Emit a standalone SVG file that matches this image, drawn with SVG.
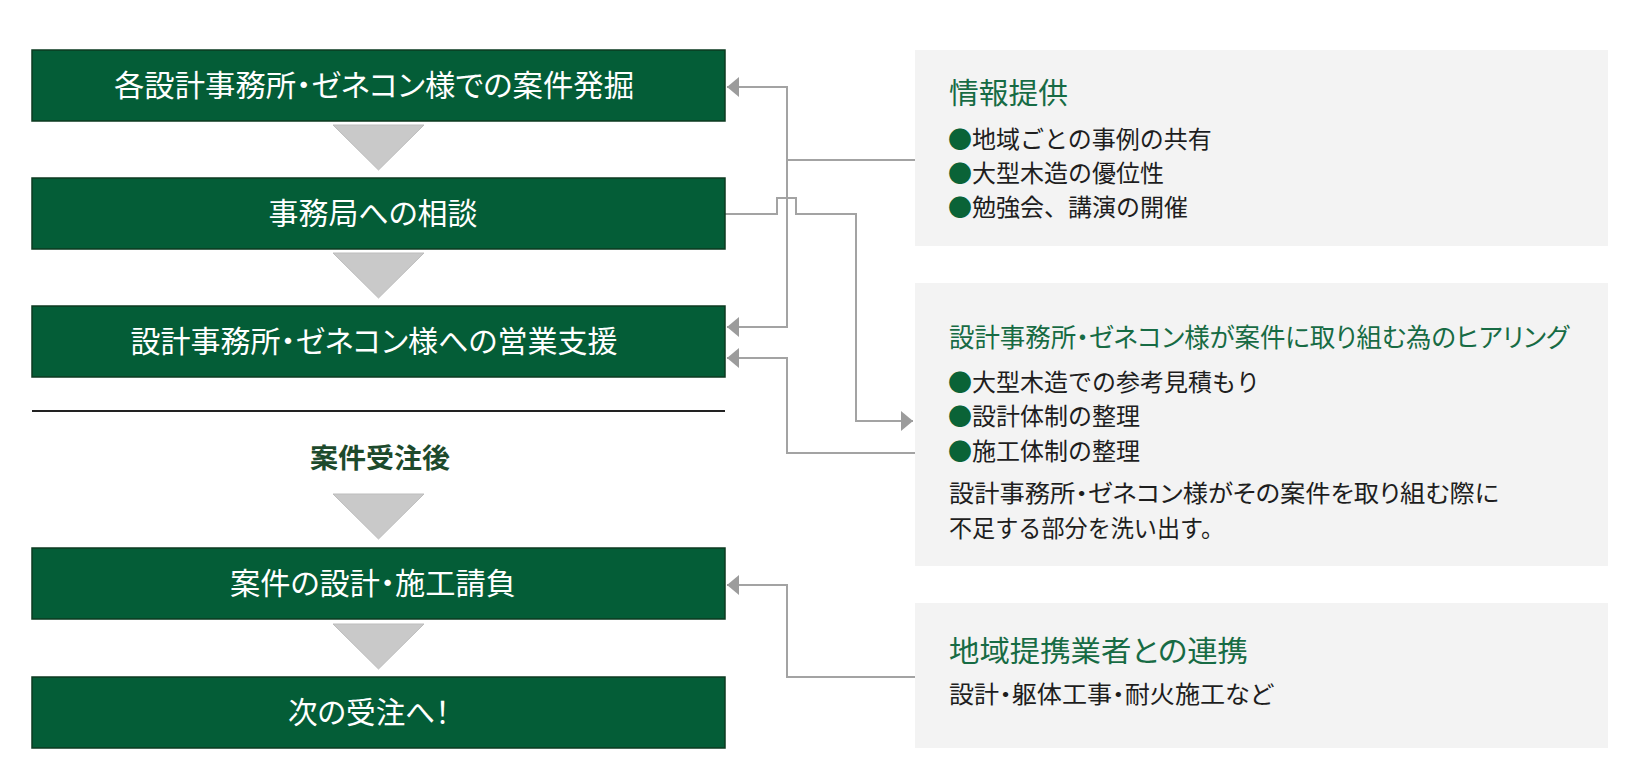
<svg xmlns="http://www.w3.org/2000/svg" width="1640" height="784" viewBox="0 0 1640 784">
<style>
.box{fill:#045d37;stroke:#0c3a21;stroke-width:1.5}
.btxt{font-family:"Noto Sans CJK JP","Noto Sans CJK SC",sans-serif;font-size:30px;fill:#ffffff;text-anchor:middle;font-feature-settings:"palt"}
.tri{fill:#c9c9c9;stroke:#bdbdbd;stroke-width:1}
.panel{fill:#f3f3f3}
.ptitle{font-family:"Noto Sans CJK JP","Noto Sans CJK SC",sans-serif;font-size:29px;fill:#176b44;font-feature-settings:"palt"}
.ptxt{font-family:"Noto Sans CJK JP","Noto Sans CJK SC",sans-serif;font-size:24px;fill:#1e1e1e}
.pal{font-feature-settings:"palt"}
.dot{fill:#0a6337}
.conn{fill:none;stroke:#a3a3a3;stroke-width:2}
.mid{font-family:"Noto Sans CJK JP","Noto Sans CJK SC",sans-serif;font-size:27px;font-weight:bold;fill:#1d4a2c;text-anchor:middle}
</style>
<defs>
<marker id="arr" viewBox="0 0 12 20" refX="12" refY="10" markerWidth="12" markerHeight="20" markerUnits="userSpaceOnUse" orient="auto">
<path d="M0,0 L12,10 L0,20 z" fill="#9c9c9c"/>
</marker>
</defs>
<rect width="1640" height="784" fill="#ffffff"/>

<g id="connectors">
<path class="conn" d="M915,160 H787 V87 H727" marker-end="url(#arr)"/>
<path class="conn" d="M787,160 V327 H727" marker-end="url(#arr)"/>
<path class="conn" d="M725,214 H777 V198 H796 V214 H856 V421 H913" marker-end="url(#arr)"/>
<path class="conn" d="M915,453 H787 V358 H727" marker-end="url(#arr)"/>
<path class="conn" d="M915,677 H787 V585 H727" marker-end="url(#arr)"/>
</g>

<g id="flow-arrows">
<polygon class="tri" points="333,125 424,125 378.5,170"/>
<polygon class="tri" points="333,253 424,253 378.5,298"/>
<polygon class="tri" points="333,494 424,494 378.5,539"/>
<polygon class="tri" points="333,624 424,624 378.5,669"/>
</g>

<g id="node-1">
<rect class="box" x="32" y="50" width="693" height="71"/>
<text class="btxt" x="374" y="96" textLength="520" lengthAdjust="spacingAndGlyphs">各設計事務所・ゼネコン様での案件発掘</text>
</g>
<g id="node-2">
<rect class="box" x="32" y="178" width="693" height="71"/>
<text class="btxt" x="373" y="224" textLength="209" lengthAdjust="spacingAndGlyphs">事務局への相談</text>
</g>
<g id="node-3">
<rect class="box" x="32" y="306" width="693" height="71"/>
<text class="btxt" x="374" y="352" textLength="487" lengthAdjust="spacingAndGlyphs">設計事務所・ゼネコン様への営業支援</text>
</g>

<g id="divider">
<line x1="32" y1="411" x2="725" y2="411" stroke="#222222" stroke-width="2"/>
<text class="mid" x="380" y="468" textLength="140" lengthAdjust="spacingAndGlyphs">案件受注後</text>
</g>

<g id="node-4">
<rect class="box" x="32" y="548" width="693" height="71"/>
<text class="btxt" x="373" y="594" textLength="286" lengthAdjust="spacingAndGlyphs">案件の設計・施工請負</text>
</g>
<g id="node-5">
<rect class="box" x="32" y="677" width="693" height="71"/>
<text class="btxt" x="369" y="723" textLength="162" lengthAdjust="spacingAndGlyphs">次の受注へ！</text>
</g>

<g id="panel-1">
<rect class="panel" x="915" y="50" width="693" height="196"/>
<text class="ptitle" x="949" y="104" textLength="119" lengthAdjust="spacingAndGlyphs">情報提供</text>
<text class="ptxt" y="148"><tspan class="dot" x="948">●</tspan><tspan>地域ごとの事例の共有</tspan></text>
<text class="ptxt" y="182"><tspan class="dot" x="948">●</tspan><tspan>大型木造の優位性</tspan></text>
<text class="ptxt" y="216"><tspan class="dot" x="948">●</tspan><tspan>勉強会、講演の開催</tspan></text>
</g>

<g id="panel-2">
<rect class="panel" x="915" y="283" width="693" height="283"/>
<text class="ptitle" x="949" y="347" style="font-size:26px" textLength="620" lengthAdjust="spacingAndGlyphs">設計事務所・ゼネコン様が案件に取り組む為のヒアリング</text>
<text class="ptxt" y="391"><tspan class="dot" x="948">●</tspan><tspan>大型木造での参考見積もり</tspan></text>
<text class="ptxt" y="425"><tspan class="dot" x="948">●</tspan><tspan>設計体制の整理</tspan></text>
<text class="ptxt" y="460"><tspan class="dot" x="948">●</tspan><tspan>施工体制の整理</tspan></text>
<text class="ptxt pal" x="949" y="502" textLength="550" lengthAdjust="spacingAndGlyphs">設計事務所・ゼネコン様がその案件を取り組む際に</text>
<text class="ptxt" x="949" y="537" textLength="275" lengthAdjust="spacingAndGlyphs">不足する部分を洗い出す。</text>
</g>

<g id="panel-3">
<rect class="panel" x="915" y="603" width="693" height="145"/>
<text class="ptitle" x="949" y="662" textLength="299" lengthAdjust="spacingAndGlyphs">地域提携業者との連携</text>
<text class="ptxt pal" x="949" y="703" textLength="324" lengthAdjust="spacingAndGlyphs">設計・躯体工事・耐火施工など</text>
</g>
</svg>
